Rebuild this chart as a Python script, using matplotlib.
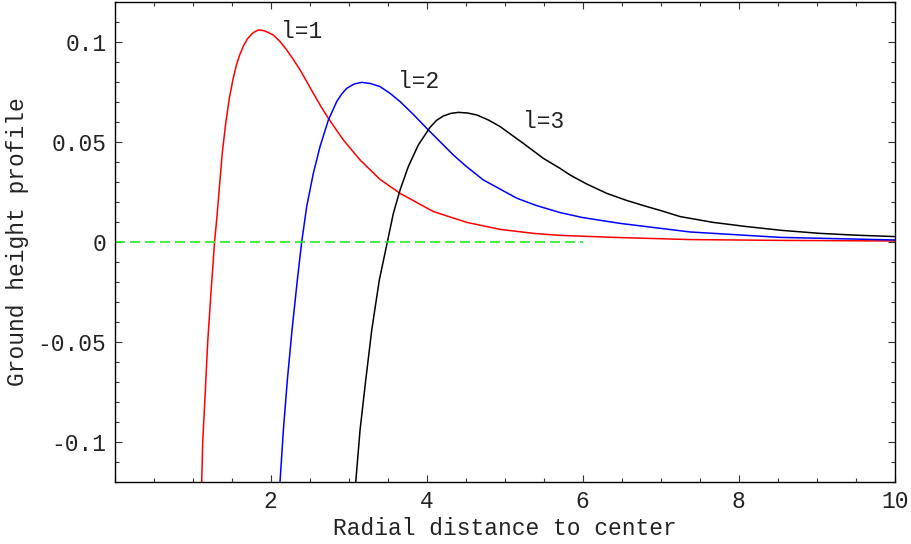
import numpy as np
import matplotlib
matplotlib.use('Agg')
import matplotlib.pyplot as plt
from matplotlib.ticker import FixedLocator, MultipleLocator

plt.rcParams['font.family'] = ['Liberation Mono', 'DejaVu Sans Mono']

# 曲線データ
red_x = [1.115, 1.128, 1.158, 1.192, 1.231, 1.280, 1.310, 1.340, 1.380, 1.425,
         1.470, 1.517, 1.560, 1.602, 1.650, 1.700, 1.77, 1.841, 1.92, 2.033,
         2.120, 2.205, 2.290, 2.376, 2.460, 2.546, 2.640, 2.739, 2.931, 3.145,
         3.401, 3.658, 4.085, 4.513, 4.94, 5.367, 5.709, 6.392, 7.376, 8.5, 10.0]
red_y = [-0.120, -0.100, -0.077, -0.050, -0.027, 0.000, 0.0125, 0.0265, 0.045, 0.060,
         0.072, 0.0815, 0.0885, 0.0935, 0.098, 0.1015, 0.1045, 0.106, 0.1056, 0.1035,
         0.1002, 0.096, 0.0912, 0.086, 0.0803, 0.0743, 0.0680, 0.0618, 0.051, 0.041,
         0.0313, 0.0243, 0.0152, 0.0098, 0.0063, 0.0043, 0.0033, 0.0023, 0.0012, 0.0008,
         0.0005]

blue_x = [2.119, 2.162, 2.213, 2.273, 2.341, 2.397, 2.461, 2.546, 2.632, 2.739,
          2.846, 2.910, 2.974, 3.07, 3.167, 3.28, 3.401, 3.53, 3.658, 3.83,
          4.0, 4.341, 4.5, 4.726, 5.154, 5.4, 5.709, 6.0, 6.478, 7.376,
          8.53, 10.0]
blue_y = [-0.120, -0.094, -0.069, -0.044, -0.019, 0.000, 0.0177, 0.0343, 0.0477, 0.061,
          0.0702, 0.0740, 0.0768, 0.0790, 0.0798, 0.0792, 0.0777, 0.0743, 0.0702, 0.0637,
          0.0568, 0.0435, 0.038, 0.031, 0.0219, 0.0183, 0.0147, 0.0122, 0.0093, 0.0050,
          0.0023, 0.001]

black_x = [3.09, 3.145, 3.218, 3.295, 3.392, 3.495, 3.572, 3.658, 3.764, 3.892,
           4.042, 4.125, 4.213, 4.31, 4.405, 4.52, 4.641, 4.79, 4.94, 5.238,
           5.495, 5.709, 5.837, 6.05, 6.308, 6.56, 6.821, 7.0, 7.248, 7.67,
           8.10, 8.55, 9.04, 9.5, 10.0]
black_y = [-0.120, -0.094, -0.069, -0.044, -0.019, 0.000, 0.0143, 0.026, 0.0377, 0.0485,
           0.0573, 0.0608, 0.063, 0.0643, 0.0648, 0.0645, 0.0635, 0.0610, 0.0577, 0.0493,
           0.0418, 0.0368, 0.0335, 0.0290, 0.0243, 0.0208, 0.0177, 0.0157, 0.0127, 0.0098,
           0.0077, 0.0058, 0.0043, 0.0034, 0.0027]

zero_x = [0, 6]
zero_y = [0, 0]

labels = ['l=1', 'l=2', 'l=3']
label_x = [2.39, 3.90, 5.50]
label_y = [0.105, 0.080, 0.060]

xticks = [2, 4, 6, 8, 10]
xticklabels = ['2', '4', '6', '8', '10']
yticks = [-0.1, -0.05, 0, 0.05, 0.1]
yticklabels = ['-0.1', '-0.05', '0', '0.05', '0.1']

FS = 16.5

fig = plt.figure(figsize=(9.12, 5.44), dpi=100)
ax = fig.add_axes([0.1258, 0.114, 0.8553, 0.8824])

ax.plot(red_x, red_y, color='red', lw=1.1)
ax.plot(blue_x, blue_y, color='blue', lw=1.1)
ax.plot(black_x, black_y, color='black', lw=1.1)
ax.plot(zero_x, zero_y, color='#22ee22', lw=1.2, dashes=(6, 3))

for t, lx, ly in zip(labels, label_x, label_y):
    ax.text(lx, ly, t, fontsize=FS, ha='center', va='center', color='#222222')

ax.set_xlim(0, 10)
ax.set_ylim(-0.12, 0.12)
ax.xaxis.set_major_locator(FixedLocator(xticks))
ax.set_xticklabels(xticklabels)
ax.xaxis.set_minor_locator(MultipleLocator(0.5))
ax.yaxis.set_major_locator(FixedLocator(yticks))
ax.set_yticklabels(yticklabels)
ax.yaxis.set_minor_locator(MultipleLocator(0.01))

ax.tick_params(which='both', direction='in', top=True, right=True,
               labelsize=FS, width=0.8, color='#333333', labelcolor='#222222')
ax.tick_params(which='major', length=5, pad=6)
ax.tick_params(which='minor', length=3)
for s in ax.spines.values():
    s.set_linewidth(1.0)

ax.set_xlabel('Radial distance to center', fontsize=FS, labelpad=3, color='#222222')
ax.set_ylabel('Ground height profile', fontsize=FS, labelpad=6, color='#222222')

fig.savefig('out.png', dpi=100)
